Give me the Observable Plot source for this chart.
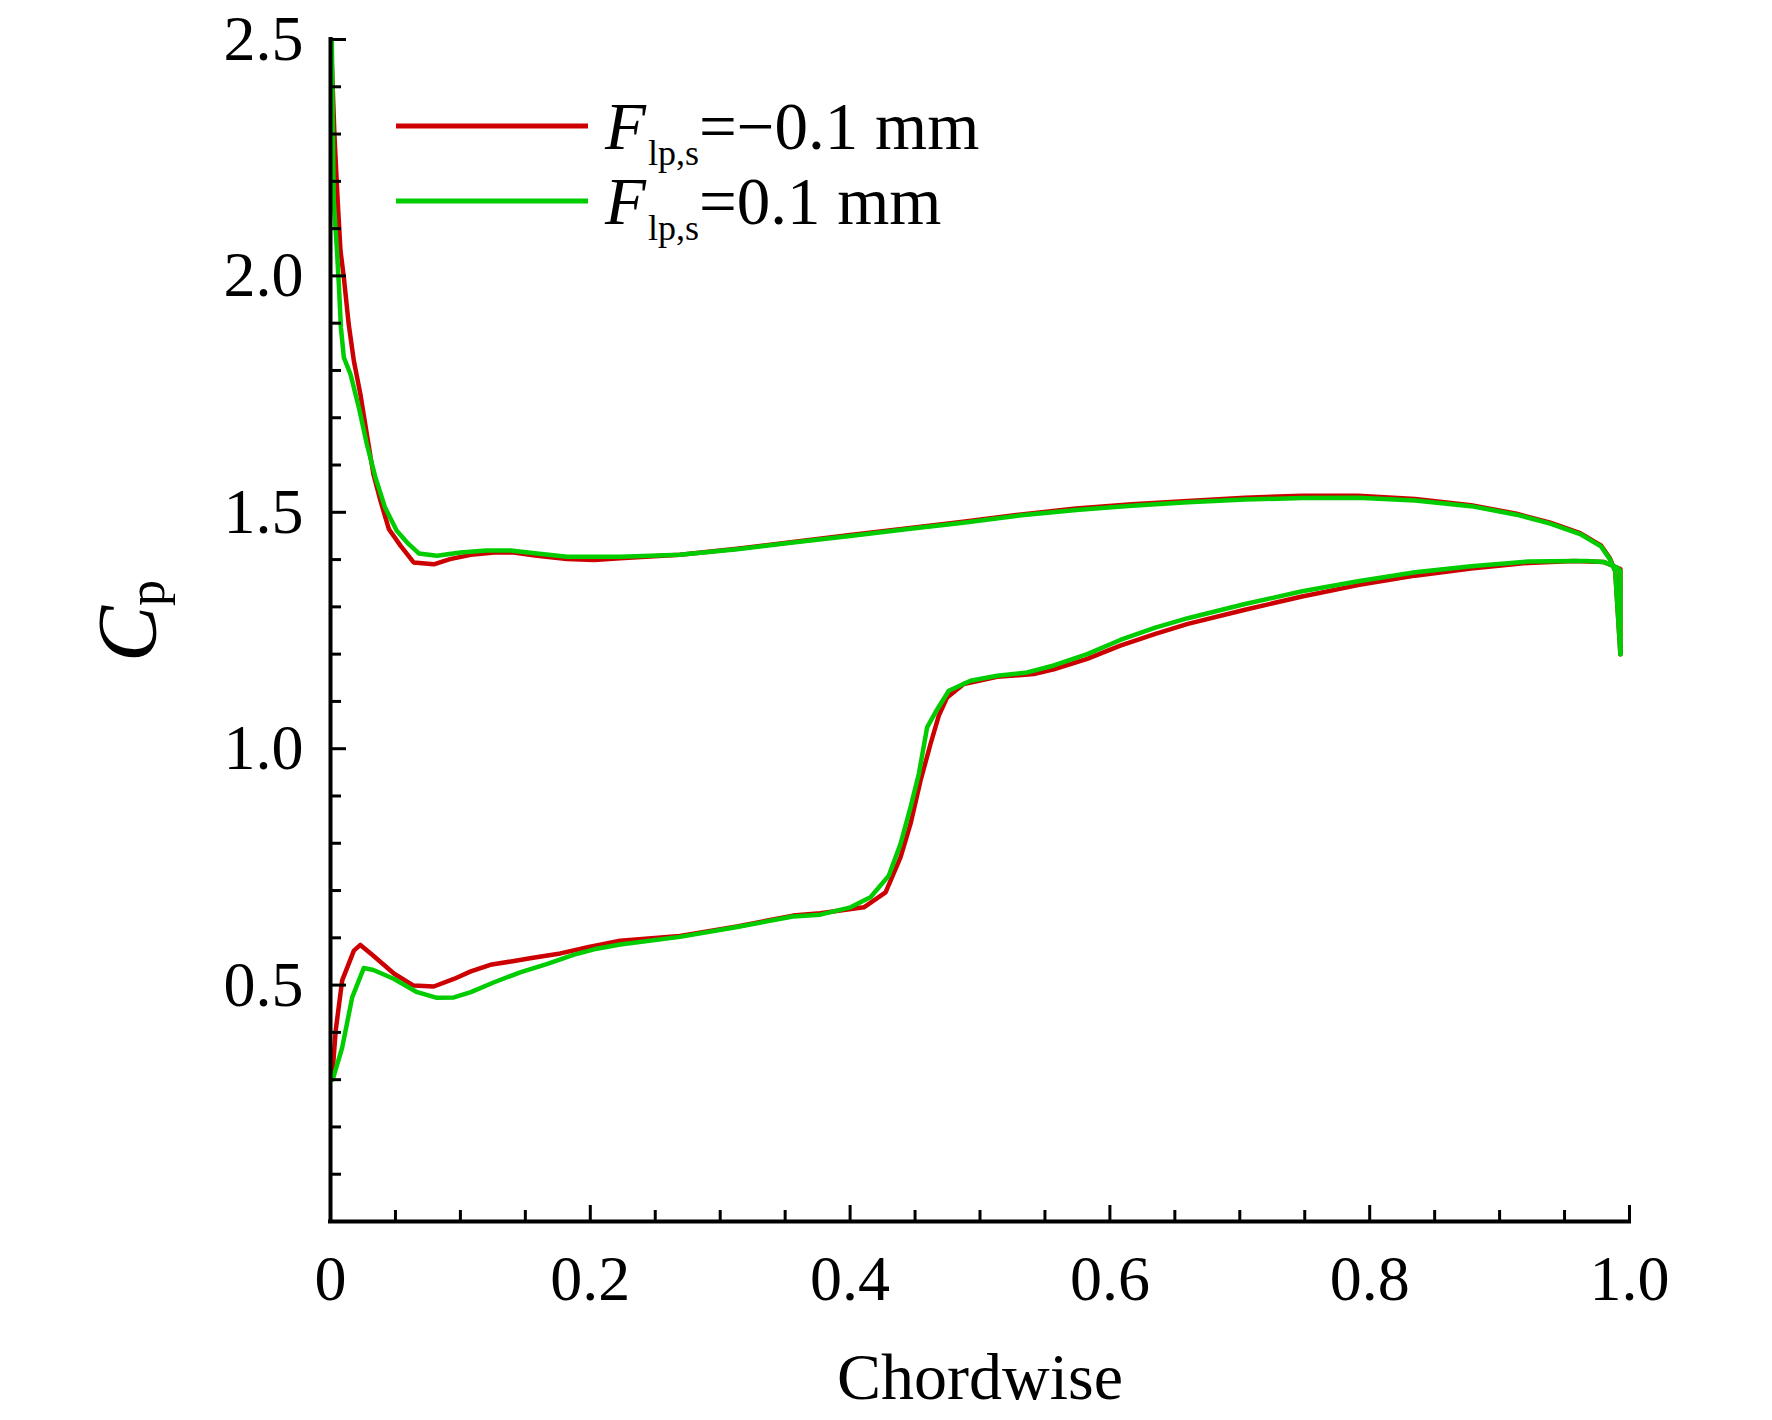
<!DOCTYPE html>
<html>
<head>
<meta charset="utf-8">
<script src="https://cdn.jsdelivr.net/npm/d3@7"></script>
<script src="https://cdn.jsdelivr.net/npm/@observablehq/plot@0.6"></script>
<style>
  html, body { margin: 0; padding: 0; background: #fff; }
  #chart { position: relative; width: 1772px; height: 1420px; }
</style>
</head>
<body>
<div id="chart"></div>
<script>
// ---- Data ----
const seriesNames = ["F_lp,s=-0.1 mm", "F_lp,s=0.1 mm"];
const seriesColors = ["#cc0000", "#00cc00"];

// Red series (F = -0.1 mm), upper branch, leading edge -> trailing edge
const redUpperX = [0.001, 0.003, 0.0055, 0.0077, 0.0103, 0.014, 0.018, 0.023, 0.028, 0.033, 0.0385, 0.045, 0.054, 0.064, 0.0795, 0.092, 0.108, 0.126, 0.141, 0.159, 0.182, 0.203, 0.223, 0.269, 0.313, 0.356, 0.4, 0.443, 0.487, 0.53, 0.574, 0.617, 0.66, 0.704, 0.748, 0.791, 0.835, 0.878, 0.913, 0.939, 0.962, 0.978, 0.985, 0.989, 0.993];
const redUpperCp = [2.45, 2.30, 2.16, 2.053, 1.996, 1.898, 1.82, 1.75, 1.665, 1.581, 1.524, 1.464, 1.429, 1.394, 1.39, 1.401, 1.41, 1.415, 1.415, 1.408, 1.401, 1.399, 1.403, 1.41, 1.423, 1.437, 1.452, 1.466, 1.48, 1.495, 1.508, 1.517, 1.524, 1.531, 1.535, 1.535, 1.528, 1.515, 1.497, 1.478, 1.456, 1.43, 1.402, 1.376, 1.20];
// Red series, lower branch
const redLowerX = [0.0013, 0.004, 0.009, 0.018, 0.023, 0.033, 0.049, 0.064, 0.0795, 0.095, 0.108, 0.123, 0.139, 0.156, 0.177, 0.198, 0.223, 0.269, 0.313, 0.356, 0.377, 0.4106, 0.4273, 0.4388, 0.4465, 0.4542, 0.4619, 0.4683, 0.4747, 0.4875, 0.5132, 0.5414, 0.5568, 0.5825, 0.608, 0.635, 0.66, 0.704, 0.748, 0.791, 0.835, 0.878, 0.922, 0.957, 0.98, 0.987, 0.993, 0.993];
const redLowerCp = [0.305, 0.404, 0.51, 0.573, 0.585, 0.562, 0.524, 0.499, 0.497, 0.513, 0.529, 0.543, 0.55, 0.558, 0.567, 0.58, 0.594, 0.604, 0.624, 0.647, 0.652, 0.6645, 0.696, 0.77, 0.8408, 0.9323, 1.01, 1.07, 1.1085, 1.1367, 1.152, 1.158, 1.168, 1.19, 1.218, 1.243, 1.264, 1.294, 1.322, 1.346, 1.366, 1.381, 1.393, 1.397, 1.395, 1.387, 1.38, 1.20];

// Green series (F = 0.1 mm), upper branch
const greenUpperX = [0.001, 0.0025, 0.005, 0.0064, 0.008, 0.0103, 0.0154, 0.0218, 0.028, 0.0346, 0.042, 0.051, 0.059, 0.068, 0.082, 0.1, 0.12, 0.1386, 0.159, 0.182, 0.223, 0.269, 0.313, 0.356, 0.4, 0.443, 0.487, 0.53, 0.574, 0.617, 0.66, 0.704, 0.748, 0.791, 0.835, 0.878, 0.913, 0.939, 0.962, 0.978, 0.985, 0.989, 0.993];
const greenUpperCp = [2.50, 2.159, 2.053, 1.983, 1.891, 1.827, 1.792, 1.722, 1.644, 1.574, 1.51, 1.461, 1.436, 1.413, 1.408, 1.415, 1.419, 1.419, 1.413, 1.406, 1.406, 1.41, 1.422, 1.436, 1.45, 1.464, 1.478, 1.493, 1.505, 1.514, 1.521, 1.527, 1.53, 1.531, 1.525, 1.513, 1.495, 1.476, 1.454, 1.428, 1.40, 1.375, 1.20];
// Green series, lower branch
const greenLowerX = [0.0017, 0.009, 0.0167, 0.0256, 0.033, 0.049, 0.0667, 0.082, 0.095, 0.108, 0.126, 0.146, 0.167, 0.187, 0.205, 0.223, 0.269, 0.313, 0.356, 0.377, 0.4003, 0.4157, 0.4298, 0.4388, 0.4465, 0.4529, 0.4593, 0.4657, 0.476, 0.4927, 0.5132, 0.5363, 0.5568, 0.5825, 0.608, 0.635, 0.66, 0.704, 0.748, 0.791, 0.835, 0.878, 0.922, 0.957, 0.967, 0.98, 0.987, 0.9905, 0.993, 0.993];
const greenLowerCp = [0.30, 0.368, 0.474, 0.536, 0.532, 0.513, 0.485, 0.473, 0.474, 0.485, 0.506, 0.527, 0.545, 0.564, 0.577, 0.586, 0.602, 0.623, 0.645, 0.649, 0.6645, 0.6857, 0.7315, 0.7985, 0.876, 0.9465, 1.045, 1.077, 1.1226, 1.1438, 1.1543, 1.1613, 1.176, 1.2, 1.23, 1.256, 1.276, 1.306, 1.333, 1.354, 1.373, 1.386, 1.396, 1.397, 1.397, 1.395, 1.387, 1.383, 1.376, 1.20];

// Axis ticks
const xMajorTicks = [0, 0.2, 0.4, 0.6, 0.8, 1.0];
const xMinorTicks = [0.05, 0.1, 0.15, 0.25, 0.3, 0.35, 0.45, 0.5, 0.55, 0.65, 0.7, 0.75, 0.85, 0.9, 0.95];
const yMajorTicks = [0.5, 1.0, 1.5, 2.0, 2.5];
const yMinorTicks = [0.1, 0.2, 0.3, 0.4, 0.6, 0.7, 0.8, 0.9, 1.1, 1.2, 1.3, 1.4, 1.6, 1.7, 1.8, 1.9, 2.1, 2.2, 2.3, 2.4];

// ---- Build tidy rows ----
function rows(xs, ys, series, branch) {
  return xs.map((x, i) => ({x, cp: ys[i], series, branch}));
}
const redData = [...rows(redUpperX, redUpperCp, 0, "upper"), ...rows(redLowerX, redLowerCp, 0, "lower")];
const greenData = [...rows(greenUpperX, greenUpperCp, 1, "upper"), ...rows(greenLowerX, greenLowerCp, 1, "lower")];

// ---- Layout ----
const W = 1772, H = 1420;
const mL = 330, mR = 143, mT = 39, mB = 199;
const frameW = W - mL - mR, frameH = H - mT - mB;
const FONT = "'Liberation Serif', 'Times New Roman', serif";

const plot = Plot.plot({
  width: W, height: H,
  marginLeft: mL, marginRight: mR, marginTop: mT, marginBottom: mB,
  x: {domain: [0, 1]},
  y: {domain: [0, 2.5]},
  style: {fontFamily: FONT, fontSize: "64px", background: "white", color: "black", overflow: "visible"},
  marks: [
    Plot.line(redData, {x: "x", y: "cp", z: "branch", stroke: seriesColors[0], strokeWidth: 4.5, curve: "linear"}),
    Plot.line(greenData, {x: "x", y: "cp", z: "branch", stroke: seriesColors[1], strokeWidth: 4.5, curve: "linear"}),
    // ticks (inward)
    Plot.tickX(xMinorTicks, {x: d => d, insetTop: frameH - 11, stroke: "black", strokeWidth: 3}),
    Plot.tickX(xMajorTicks.filter(d => d > 0), {x: d => d, insetTop: frameH - 16, stroke: "black", strokeWidth: 3}),
    Plot.tickY(yMinorTicks, {y: d => d, insetRight: frameW - 11, stroke: "black", strokeWidth: 3}),
    Plot.tickY(yMajorTicks, {y: d => d, insetRight: frameW - 16, stroke: "black", strokeWidth: 3}),
    // axis lines
    Plot.ruleX([0], {stroke: "black", strokeWidth: 4, strokeLinecap: "square"}),
    Plot.ruleY([0], {stroke: "black", strokeWidth: 4, strokeLinecap: "square"}),
    // tick labels
    Plot.axisX({ticks: xMajorTicks, tickSize: 0, tickPadding: 33, fontSize: 64,
      tickFormat: d => d === 0 ? "0" : d.toFixed(1), label: null}),
    Plot.axisY({ticks: yMajorTicks, tickSize: 0, tickPadding: 27, fontSize: 64,
      tickFormat: d3.format(".1f"), label: null}),
    // x axis title
    Plot.text(["Chordwise"], {frameAnchor: "bottom", dy: 177, fontSize: 66, fill: "black", textAnchor: "middle"})
  ]
});

document.getElementById("chart").appendChild(plot);

// ---- Y axis title C_p (rich text) ----
const svg = d3.select(plot);
const yt = svg.append("text")
  .attr("transform", "translate(156,621) rotate(-90)")
  .attr("text-anchor", "middle")
  .attr("font-family", FONT)
  .attr("fill", "black");
yt.append("tspan").attr("font-style", "italic").attr("font-size", 84).text("C");
yt.append("tspan").attr("font-size", 52).attr("dy", 8).text("p");

// ---- Legend ----
const legendRows = [
  {color: seriesColors[0], value: "=\u22120.1 mm", lineY: 126, baseY: 149},
  {color: seriesColors[1], value: "=0.1 mm", lineY: 201, baseY: 224}
];
const lg = svg.append("g");
legendRows.forEach(r => {
  lg.append("line").attr("x1", 396).attr("x2", 588).attr("y1", r.lineY).attr("y2", r.lineY)
    .attr("stroke", r.color).attr("stroke-width", 5);
  const t = lg.append("text").attr("x", 605).attr("y", r.baseY)
    .attr("text-anchor", "start")
    .attr("font-family", FONT).attr("font-size", 67).attr("fill", "black");
  t.append("tspan").attr("font-style", "italic").text("F");
  t.append("tspan").attr("font-size", 36).attr("dy", 16).attr("dx", 2).text("lp,s");
  t.append("tspan").attr("dy", -16).text(r.value);
});
</script>
</body>
</html>
